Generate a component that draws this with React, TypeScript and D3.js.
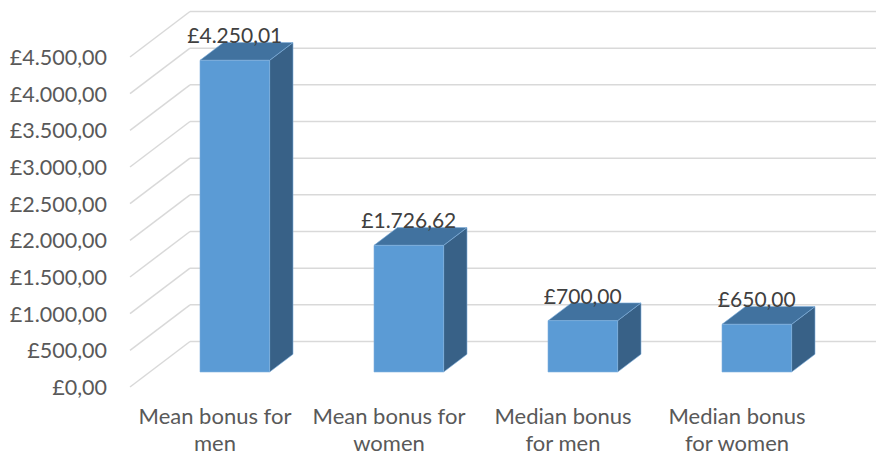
import React from "react";
import * as d3 from "d3";

const categories = [
  ["Mean bonus for", "men"],
  ["Mean bonus for", "women"],
  ["Median bonus", "for men"],
  ["Median bonus", "for women"],
];
const values = [4250.01, 1726.62, 700.0, 650.0];
const valueLabels = ["£4.250,01", "£1.726,62", "£700,00", "£650,00"];
const ticks = [0, 500, 1000, 1500, 2000, 2500, 3000, 3500, 4000, 4500];
const tickLabels = ["£0,00", "£500,00", "£1.000,00", "£1.500,00", "£2.000,00", "£2.500,00", "£3.000,00", "£3.500,00", "£4.000,00", "£4.500,00"];

const W = 876;
const H = 457;
const DX = 60; // depth offset front->back
const DY = -45.5;
const F0 = 0.33;
const F1 = 0.72;
const FONT = "Lato, 'Open Sans', sans-serif";
const TEXT = "#595959";

export default function App() {
  const y = d3.scaleLinear().domain([0, 4500]).range([387, 57]);
  const x = d3
    .scaleBand<number>()
    .domain(d3.range(categories.length))
    .range([128, 824]);
  const barW = x.step() * 0.4;

  return (
    <svg
      width={W}
      height={H}
      style={{ position: "absolute", left: 0, top: 0, background: "#fff" }}
    >
      {ticks.map((t) => {
        const yf = y(t);
        return (
          <g key={t} stroke="#D9D9D9" strokeWidth={1.5} fill="none">
            <line x1={130} y1={yf} x2={130 + DX} y2={yf + DY} />
            <line x1={130 + DX} y1={yf + DY} x2={W} y2={yf + DY} />
          </g>
        );
      })}
      {ticks.map((t, i) => (
        <text
          key={"l" + t}
          x={107}
          y={y(t)}
          textAnchor="end"
          dominantBaseline="central"
          fontFamily={FONT}
          fontSize={21.5}
          fill={TEXT}
        >
          {tickLabels[i]}
        </text>
      ))}
      {values.map((v, i) => {
        const cx = (x(i) as number) + x.bandwidth() / 2 + DX * F0;
        const x0 = cx - barW / 2;
        const x1 = cx + barW / 2;
        const yb = y(0) + DY * F0;
        const yt = y(v) + DY * F0;
        const ddx = DX * (F1 - F0);
        const ddy = DY * (F1 - F0);
        const side = `M${x1},${yt} L${x1 + ddx},${yt + ddy} L${x1 + ddx},${yb + ddy} L${x1},${yb} Z`;
        const top = `M${x0},${yt} L${x0 + ddx},${yt + ddy} L${x1 + ddx},${yt + ddy} L${x1},${yt} Z`;
        return (
          <g key={"b" + i} stroke="#7FB0DE" strokeWidth={0.6} strokeLinejoin="round">
            <path d={side} fill="#386187" />
            <path d={top} fill="#41729F" />
            <rect x={x0} y={yt} width={barW} height={yb - yt} fill="#5B9BD5" />
            <text
              x={cx}
              y={yt - 17}
              textAnchor="middle"
              fontFamily={FONT}
              fontSize={21}
              fill="#404040"
              stroke="none"
            >
              {valueLabels[i]}
            </text>
          </g>
        );
      })}
      {categories.map((lines, i) => {
        const cx = (x(i) as number) + x.bandwidth() / 2;
        return (
          <text
            key={"c" + i}
            textAnchor="middle"
            fontFamily={FONT}
            fontSize={22}
            fill={TEXT}
          >
            {lines.map((ln, j) => (
              <tspan key={j} x={cx} y={424 + j * 27}>
                {ln}
              </tspan>
            ))}
          </text>
        );
      })}
    </svg>
  );
}
